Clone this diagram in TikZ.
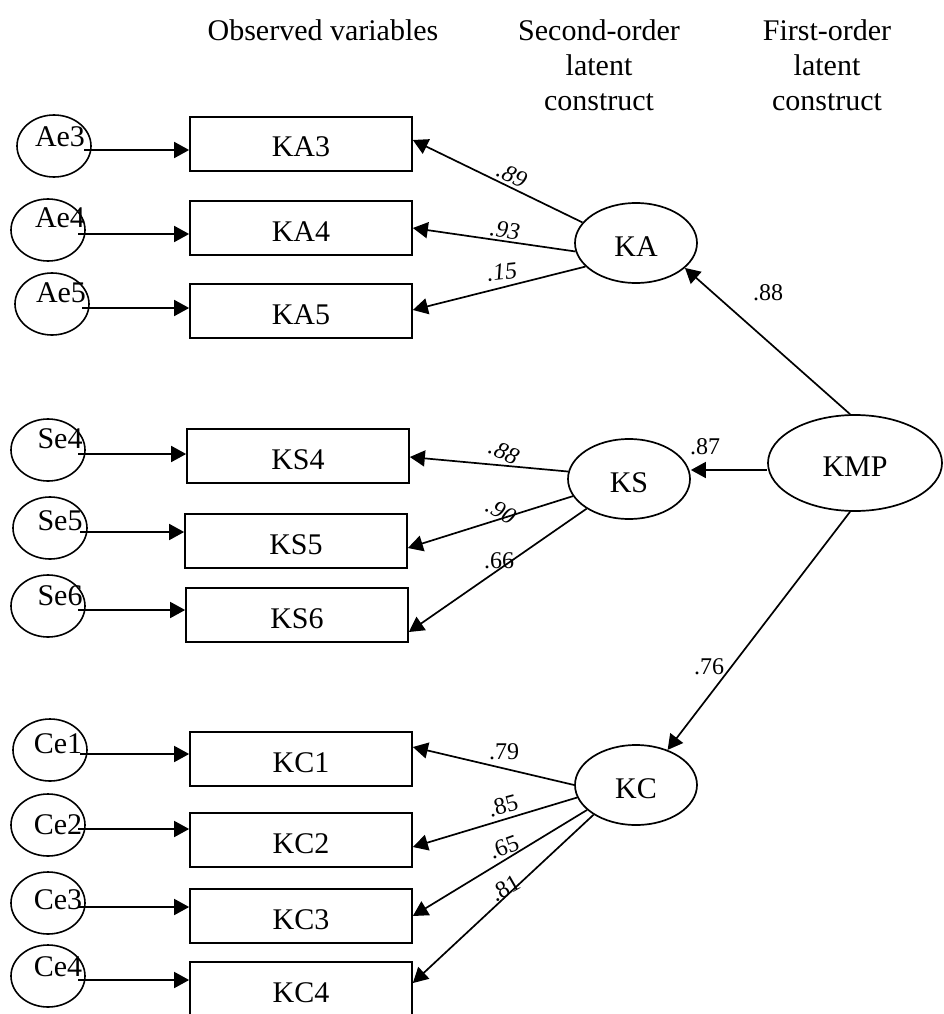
\documentclass[tikz,border=0pt]{standalone}
\usepackage{fontspec}
\setmainfont{Liberation Serif}
\usetikzlibrary{shapes.geometric,arrows.meta}
\begin{document}
\begin{tikzpicture}[x=1pt,y=-1pt,
  every node/.style={font=\fontsize{30}{35}\selectfont},
  obs/.style={draw,line width=1.7pt,minimum width=222pt,minimum height=54pt,inner sep=0pt,
    text height=26pt,text depth=0pt},
  err/.style={draw,ellipse,line width=1.6pt,minimum width=74pt,minimum height=62pt,inner sep=0pt},
  errtxt/.style={inner sep=0pt},
  lat/.style={draw,ellipse,line width=1.7pt,minimum width=122pt,minimum height=80pt,inner sep=0pt,
    text height=26pt,text depth=0pt},
  arr/.style={line width=1.7pt,-{Triangle[length=15pt,width=16pt]}},
  coef/.style={inner sep=0pt,font=\fontsize{24}{28}\selectfont},
  coefit/.style={inner sep=0pt,font=\fontsize{24}{28}\selectfont\itshape},
  head/.style={align=center,inner sep=0pt,anchor=north},
]
\useasboundingbox (0,0) rectangle (944,1014);

% column headings
\node[head] (h1) at (323,19) {Observed variables};
\node[head] (h2) at (599,19) {Second-order\\latent\\construct};
\node[head] (h3) at (827,19) {First-order\\latent\\construct};

% observed indicators
\node[obs] (b1)  at (301,144) {KA3};
\node[obs] (b2)  at (301,228) {KA4};
\node[obs] (b3)  at (301,311) {KA5};
\node[obs] (b4)  at (298,456) {KS4};
\node[obs] (b5)  at (296,541) {KS5};
\node[obs] (b6)  at (297,615) {KS6};
\node[obs] (b7)  at (301,759) {KC1};
\node[obs] (b8)  at (301,840) {KC2};
\node[obs] (b9)  at (301,916) {KC3};
\node[obs] (b10) at (301,989) {KC4};

% error terms
\node[err] (e1)  at (54,146) {};
\node[err] (e2)  at (48,230) {};
\node[err] (e3)  at (52,304) {};
\node[err] (e4)  at (48,450) {};
\node[err] (e5)  at (50,528) {};
\node[err] (e6)  at (48,606) {};
\node[err] (e7)  at (50,750) {};
\node[err] (e8)  at (48,825) {};
\node[err] (e9)  at (48,903) {};
\node[err] (e10) at (48,976) {};

\node[errtxt] (t1)  at (60,137) {Ae3};
\node[errtxt] (t2)  at (60,218) {Ae4};
\node[errtxt] (t3)  at (61,293) {Ae5};
\node[errtxt] (t4)  at (60,439) {Se4};
\node[errtxt] (t5)  at (60,521) {Se5};
\node[errtxt] (t6)  at (60,596) {Se6};
\node[errtxt] (t7)  at (58,744) {Ce1};
\node[errtxt] (t8)  at (58,825) {Ce2};
\node[errtxt] (t9)  at (58,900) {Ce3};
\node[errtxt] (t10) at (58,967) {Ce4};

\foreach \i in {1,...,10}
  \draw[arr] ([xshift=30pt,yshift=-4pt]e\i.center) -- ([yshift=-4pt]e\i.center -| b\i.west);

% latent constructs
\node[lat] (KA) at (636,243) {KA};
\node[lat] (KS) at (629,479) {KS};
\node[lat] (KC) at (636,785) {KC};
\node[lat,minimum width=174pt,minimum height=96pt] (KMP) at (855,463) {KMP};

% structural paths
\draw[arr] ([xshift=-5pt]KMP.north) -- (KA.-27);
\draw[arr] ([yshift=-7pt]KMP.west) -- ([yshift=-7pt]KMP.west -| KS.east);
\draw[arr] ([xshift=-5pt]KMP.south) -- (KC.48);

% loadings
\draw[arr] (KA.159) -- ([yshift=4pt]b1.east);
\draw[arr] (KA.188) -- (b2.east);
\draw[arr] (KA.205) -- ([yshift=1pt]b3.east);
\draw[arr] (KS.173) -- ([yshift=-1pt]b4.east);
\draw[arr] (KS.197) -- ([yshift=-7pt]b5.east);
\draw[arr] (KS.215) -- ([yshift=-17pt]b6.east);
\draw[arr] (KC.180) -- ([yshift=12pt]b7.east);
\draw[arr] (KC.192) -- ([yshift=-7pt]b8.east);
\draw[arr] (KC.207) -- (b9.east);
\draw[arr] (KC.215) -- ([yshift=6pt]b10.east);

% coefficients
\node[coefit,rotate=-26] (c1) at (512,175) {.89};
\node[coefit,rotate=-8]  (c2) at (505,230) {.93};
\node[coefit,rotate=6]   (c3) at (502,272) {.15};
\node[coefit,rotate=-25] (c4) at (504,452) {.88};
\node[coefit,rotate=-30] (c5) at (501,511) {.90};
\node[coef]              (c6) at (499,561) {.66};
\node[coef]              (c7) at (504,752) {.79};
\node[coef,rotate=15]    (c8) at (503,806) {.85};
\node[coef,rotate=20]    (c9) at (504,847) {.65};
\node[coef,rotate=30]    (c10) at (505,888) {.81};
\node[coef] (c11) at (768,293) {.88};
\node[coef] (c12) at (705,447) {.87};
\node[coef] (c13) at (709,667) {.76};
\end{tikzpicture}
\end{document}
